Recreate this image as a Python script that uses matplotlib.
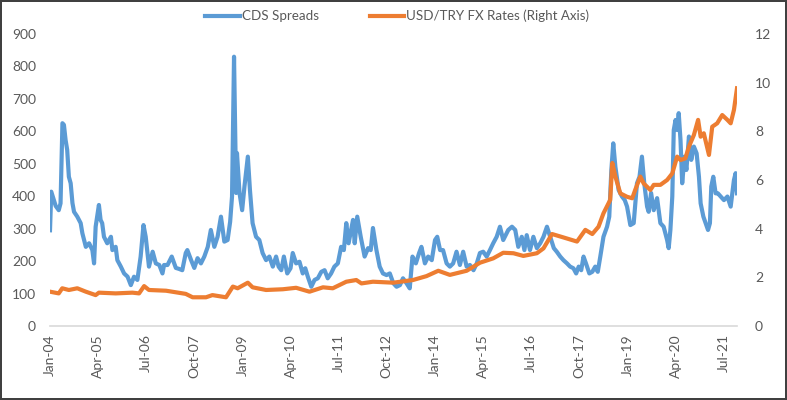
import matplotlib
matplotlib.use("Agg")
import matplotlib.pyplot as plt
import matplotlib.dates as mdates
import numpy as np
import pandas as pd

# CDS spreads (left axis)
cds_dates = [
    "2004-01-01", "2004-01-13", "2004-02-24", "2004-03-24", "2004-04-10", "2004-04-28",
    "2004-05-12", "2004-05-28", "2004-06-12", "2004-06-28", "2004-07-15", "2004-08-01",
    "2004-08-16", "2004-09-16", "2004-10-18", "2004-11-03", "2004-12-06", "2005-01-06",
    "2005-02-06", "2005-02-22", "2005-03-09", "2005-04-09", "2005-04-25", "2005-05-10",
    "2005-05-27", "2005-06-27", "2005-08-01", "2005-08-15", "2005-09-15", "2005-10-01",
    "2005-11-03", "2005-12-04", "2006-01-06", "2006-02-06", "2006-03-08", "2006-04-09",
    "2006-05-10", "2006-06-06", "2006-06-27", "2006-07-28", "2006-09-01", "2006-10-01",
    "2006-11-03", "2006-12-03", "2006-12-18", "2007-01-20", "2007-03-01", "2007-04-09",
    "2007-05-09", "2007-06-09", "2007-07-12", "2007-07-27", "2007-09-01", "2007-10-01",
    "2007-11-01", "2007-12-03", "2008-01-04", "2008-02-06", "2008-03-06", "2008-04-08",
    "2008-05-09", "2008-06-10", "2008-07-12", "2008-08-12", "2008-09-05", "2008-09-23",
    "2008-10-12", "2008-11-01", "2008-11-09", "2008-12-03", "2008-12-28", "2009-01-19",
    "2009-02-20", "2009-03-12", "2009-04-06", "2009-05-09", "2009-06-09", "2009-07-10",
    "2009-08-12", "2009-09-12", "2009-10-15", "2009-11-15", "2009-12-09", "2010-01-03",
    "2010-01-28", "2010-03-01", "2010-04-01", "2010-04-22", "2010-05-24", "2010-06-25",
    "2010-07-26", "2010-08-19", "2010-09-12", "2010-10-15", "2010-11-15", "2010-12-16",
    "2011-01-18", "2011-02-18", "2011-03-20", "2011-04-21", "2011-05-22", "2011-06-24",
    "2011-07-25", "2011-08-20", "2011-09-12", "2011-10-04", "2011-11-15", "2011-12-01",
    "2011-12-25", "2012-01-27", "2012-03-04", "2012-04-06", "2012-05-01", "2012-05-22",
    "2012-06-24", "2012-07-25", "2012-08-25", "2012-09-28", "2012-10-29", "2012-12-01",
    "2013-01-01", "2013-02-02", "2013-03-03", "2013-04-05", "2013-05-06", "2013-06-01",
    "2013-07-03", "2013-08-03", "2013-08-25", "2013-09-27", "2013-10-28", "2013-12-01",
    "2014-01-01", "2014-01-22", "2014-02-18", "2014-03-18", "2014-04-21", "2014-05-22",
    "2014-06-22", "2014-07-24", "2014-08-25", "2014-09-25", "2014-10-28", "2014-11-28",
    "2015-01-01", "2015-02-01", "2015-03-03", "2015-04-03", "2015-05-06", "2015-06-06",
    "2015-07-07", "2015-08-09", "2015-09-09", "2015-10-10", "2015-11-12", "2015-11-27",
    "2016-01-01", "2016-02-01", "2016-03-01", "2016-04-03", "2016-04-28", "2016-05-20",
    "2016-06-20", "2016-07-22", "2016-08-24", "2016-09-25", "2016-10-26", "2016-11-28",
    "2016-12-29", "2017-02-01", "2017-03-01", "2017-04-03", "2017-05-03", "2017-06-06",
    "2017-07-06", "2017-08-06", "2017-09-01", "2017-09-25", "2017-10-19", "2017-11-10",
    "2017-12-03", "2018-01-04", "2018-02-01", "2018-03-01", "2018-03-25", "2018-04-18",
    "2018-05-18", "2018-06-21", "2018-07-12", "2018-08-01", "2018-08-19", "2018-09-08",
    "2018-10-09", "2018-11-10", "2018-12-06", "2018-12-28", "2019-01-28", "2019-03-01",
    "2019-04-01", "2019-04-25", "2019-05-18", "2019-06-09", "2019-07-06", "2019-07-21",
    "2019-08-13", "2019-09-07", "2019-10-09", "2019-11-09", "2019-12-10", "2020-01-12",
    "2020-01-27", "2020-02-12", "2020-03-01", "2020-03-15", "2020-04-01", "2020-04-16",
    "2020-05-01", "2020-05-18", "2020-06-03", "2020-06-25", "2020-07-13", "2020-08-06",
    "2020-08-28", "2020-09-22", "2020-10-18", "2020-11-09", "2020-11-25", "2020-12-21",
    "2021-01-12", "2021-02-03", "2021-02-21", "2021-03-06", "2021-03-25", "2021-04-16",
    "2021-05-07", "2021-06-03", "2021-07-04", "2021-08-06", "2021-09-06", "2021-10-07",
    "2021-10-23", "2021-11-05",
]
cds_values = [
    295, 414, 370, 357, 378, 625,
    620, 573, 543, 460, 440, 379,
    352, 337, 317, 286, 244, 255,
    234, 193, 306, 373, 327, 317,
    275, 255, 275, 234, 244, 203,
    183, 162, 152, 126, 152, 142,
    214, 311, 275, 183, 229, 193,
    188, 162, 188, 188, 214, 179,
    176, 172, 225, 234, 203, 179,
    209, 193, 214, 244, 296, 244,
    275, 337, 260, 265, 321, 399,
    830, 410, 533, 410, 357, 430,
    522, 419, 317, 275, 265, 225,
    203, 214, 183, 214, 183, 172,
    214, 162, 178, 225, 193, 198,
    162, 178, 152, 121, 142, 147,
    167, 172, 147, 162, 183, 193,
    244, 234, 317, 255, 327, 255,
    337, 275, 214, 240, 234, 302,
    234, 183, 162, 157, 162, 132,
    121, 126, 147, 132, 116, 214,
    193, 225, 244, 193, 214, 203,
    265, 275, 234, 234, 193, 183,
    193, 229, 188, 229, 183, 188,
    172, 193, 225, 229, 214, 234,
    255, 275, 306, 265, 286, 296,
    306, 296, 244, 275, 234, 280,
    234, 275, 240, 255, 275, 306,
    275, 240, 229, 214, 203, 193,
    183, 178, 162, 183, 172, 214,
    193, 162, 167, 183, 167, 214,
    275, 306, 337, 481, 563, 491,
    419, 399, 388, 368, 311, 317,
    440, 460, 522, 440, 368, 352,
    410, 357, 394, 317, 306, 265,
    240, 296, 399, 604, 635, 604,
    656, 573, 440, 522, 481, 584,
    512, 553, 532, 460, 378, 337,
    317, 296, 317, 430, 460, 409,
    409, 399, 388, 399, 368, 450,
    471, 409,
]

# USD/TRY (right axis)
fx_dates = [
    "2004-01-01", "2004-03-24", "2004-04-26", "2004-06-28", "2004-09-16", "2004-12-06",
    "2005-03-09", "2005-04-09", "2005-09-15", "2006-02-21", "2006-04-25", "2006-06-12",
    "2006-07-28", "2007-01-06", "2007-07-12", "2007-09-15", "2008-01-20", "2008-03-21",
    "2008-07-28", "2008-10-01", "2008-11-15", "2009-02-20", "2009-04-06", "2009-08-12",
    "2010-01-18", "2010-05-24", "2010-09-28", "2011-02-03", "2011-05-07", "2011-09-12",
    "2011-12-16", "2012-02-03", "2012-05-22", "2012-12-01", "2013-06-06", "2013-10-12",
    "2014-02-01", "2014-05-22", "2014-10-28", "2015-03-03", "2015-07-07", "2015-10-10",
    "2016-01-15", "2016-04-18", "2016-08-24", "2016-10-26", "2017-01-15", "2017-05-03",
    "2017-09-09", "2017-11-27", "2018-02-01", "2018-04-01", "2018-05-18", "2018-07-21",
    "2018-08-10", "2018-09-08", "2018-10-25", "2018-12-28", "2019-02-15", "2019-03-15",
    "2019-05-03", "2019-06-03", "2019-08-06", "2019-09-07", "2019-11-09", "2020-01-12",
    "2020-03-01", "2020-04-16", "2020-05-18", "2020-07-03", "2020-08-06", "2020-09-22",
    "2020-11-01", "2020-11-25", "2020-12-25", "2021-02-12", "2021-03-15", "2021-05-01",
    "2021-06-18", "2021-08-06", "2021-09-06", "2021-10-07", "2021-11-05",
]
fx_values = [
    1.41, 1.34, 1.55, 1.48, 1.55, 1.41,
    1.27, 1.37, 1.34, 1.37, 1.34, 1.64,
    1.48, 1.45, 1.32, 1.18, 1.18, 1.27,
    1.18, 1.62, 1.55, 1.78, 1.59, 1.48,
    1.51, 1.57, 1.41, 1.59, 1.55, 1.82,
    1.89, 1.75, 1.82, 1.78, 1.89, 2.05,
    2.27, 2.10, 2.27, 2.60, 2.78, 3.01,
    2.99, 2.88, 2.99, 3.19, 3.78, 3.64,
    3.47, 3.95, 3.78, 4.08, 4.63, 5.18,
    6.70, 6.14, 5.45, 5.31, 5.25, 5.59,
    6.14, 5.86, 5.59, 5.80, 5.80, 6.00,
    6.27, 6.96, 6.82, 6.89, 7.37, 7.85,
    8.47, 7.78, 7.92, 7.03, 8.19, 8.33,
    8.67, 8.47, 8.33, 8.88, 9.77,
]

left_ticks = list(range(0, 1000, 100))
right_ticks = list(range(0, 14, 2))
x_tick_dates = ["2004-01-01", "2005-04-01", "2006-07-01", "2007-10-01", "2009-01-01",
                "2010-04-01", "2011-07-01", "2012-10-01", "2014-01-01", "2015-04-01",
                "2016-07-01", "2017-10-01", "2019-01-01", "2020-04-01", "2021-07-01"]

BLUE = "#5B9BD5"
ORANGE = "#ED7D31"
GREY = "#595959"

plt.rcParams["font.family"] = ["Lato", "DejaVu Sans"]

cds = pd.Series(cds_values, index=pd.to_datetime(cds_dates))
fx = pd.Series(fx_values, index=pd.to_datetime(fx_dates))

fig = plt.figure(figsize=(7.87, 4.0), dpi=100)
fig.patch.set_edgecolor("#404040")
fig.patch.set_linewidth(1.5)
ax = fig.add_axes([50 / 787, 1 - 326 / 400, 687 / 787, 292 / 400])
ax2 = ax.twinx()

l1, = ax.plot(cds.index, cds.values, color=BLUE, lw=3.0, solid_joinstyle="round",
              label="CDS Spreads")
l2, = ax2.plot(fx.index, fx.values, color=ORANGE, lw=3.0, solid_joinstyle="round",
               label="USD/TRY FX Rates (Right Axis)")

ax.set_ylim(0, 900)
ax2.set_ylim(0, 12)
ax.set_yticks(left_ticks)
ax2.set_yticks(right_ticks)
ax.set_xlim(pd.Timestamp("2004-01-01"), pd.Timestamp("2021-11-05"))
ax.set_xticks(pd.to_datetime(x_tick_dates))
ax.xaxis.set_major_formatter(mdates.DateFormatter("%b-%y"))

for a in (ax, ax2):
    for s in a.spines.values():
        s.set_visible(False)
    a.tick_params(length=0, colors=GREY, labelsize=10)
ax.spines["bottom"].set_visible(True)
ax.spines["bottom"].set_color("#D9D9D9")
ax.spines["bottom"].set_linewidth(1.2)
ax.tick_params(axis="y", pad=10)
ax2.tick_params(axis="y", pad=13)
ax.tick_params(axis="x", pad=6)
for lab in ax.get_xticklabels():
    lab.set_rotation(90)

fig.legend(handles=[l1, l2], loc="center", bbox_to_anchor=(0.505, 1 - 16 / 400),
           ncol=2, frameon=False, fontsize=9.6, labelcolor=GREY,
           handlelength=2.6, handletextpad=0.15, columnspacing=3.8)

fig.savefig("out.png", dpi=100, edgecolor=fig.get_edgecolor())
